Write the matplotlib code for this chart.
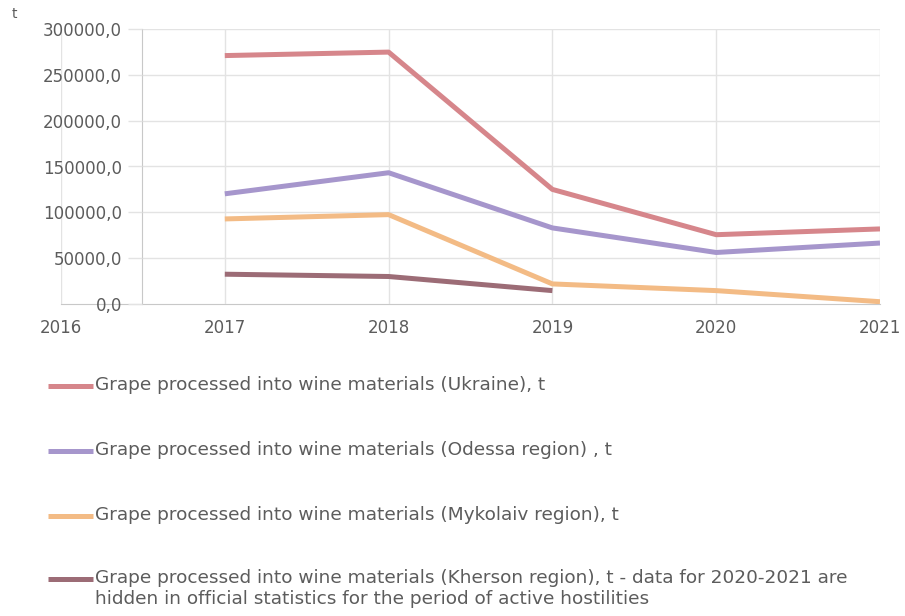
import matplotlib
matplotlib.use("Agg")
import matplotlib.pyplot as plt
from matplotlib.lines import Line2D
from matplotlib.ticker import FuncFormatter

# Grape processed into wine materials, tonnes
years = [2017, 2018, 2019, 2020, 2021]
ukraine = [271000, 274800, 125000, 75600, 81900]
odessa = [120200, 143200, 83000, 56200, 66500]
mykolaiv = [92800, 97500, 21900, 14600, 2500]
kherson_years = [2017, 2018, 2019]
kherson = [32500, 30000, 14600]

x_ticks = [2016, 2017, 2018, 2019, 2020, 2021]
y_ticks = [0, 50000, 100000, 150000, 200000, 250000, 300000]

labels = [
    "Grape processed into wine materials (Ukraine), t",
    "Grape processed into wine materials (Odessa region) , t",
    "Grape processed into wine materials (Mykolaiv region), t",
    "Grape processed into wine materials (Kherson region), t - data for 2020-2021 are\n"
    "hidden in official statistics for the period of active hostilities",
]
colors = ["#d6868b", "#a696cc", "#f3bb85", "#9c6c76"]

TEXT = "#5c5c5c"
GRID = "#e3e3e3"
AXIS = "#c8c8c8"

plt.rcParams["font.family"] = ["DejaVu Sans"]

W, H = 905, 616
fig = plt.figure(figsize=(W / 100, H / 100), dpi=100)
ax = fig.add_axes([61 / W, 1 - 304 / H, 819 / W, 275 / H])

ax.set_xlim(2016, 2021)
ax.set_ylim(0, 300000)

# y axis sits half a year in from the left edge
axis_x = 2016 + (142 - 61) / 819 * 5
axis_frac = (axis_x - 2016) / 5

series = [(years, ukraine), (years, odessa), (years, mykolaiv), (kherson_years, kherson)]
for (xs, ys), c in zip(series, colors):
    ax.plot(xs, ys, color=c, lw=3.6, solid_capstyle="butt", solid_joinstyle="round", zorder=3)

ax.set_xticks(x_ticks)
ax.set_yticks(y_ticks)
ax.yaxis.set_major_formatter(FuncFormatter(lambda v, _: f"{v:.1f}".replace(".", ",")))
ax.grid(axis="x", color=GRID, lw=1.0, zorder=0)
for y in y_ticks[1:]:
    ax.axhline(y, xmin=axis_frac, xmax=1, color=GRID, lw=1.0, zorder=0)

for side in ("top", "right"):
    ax.spines[side].set_visible(False)
ax.spines["left"].set_position(("data", axis_x))
ax.spines["left"].set_color(AXIS)
ax.spines["bottom"].set_color(AXIS)
ax.spines["left"].set_zorder(1)
ax.spines["bottom"].set_zorder(1)

ax.tick_params(axis="y", direction="out", length=10, width=1, color=GRID, pad=4.5,
               labelsize=12, labelcolor=TEXT)
ax.tick_params(axis="x", length=0, pad=11, labelsize=12, labelcolor=TEXT)

fig.text(14 / W, 1 - 14 / H, "t", fontsize=10, color=TEXT, ha="center", va="center")

# legend rows below the plot
row_y = [386, 451, 516, 579]
for y, lab, c in zip(row_y, labels, colors):
    fy = 1 - y / H
    fig.add_artist(Line2D([48 / W, 93 / W], [fy, fy], color=c, lw=3.6,
                          solid_capstyle="butt", transform=fig.transFigure))
    fig.text(95 / W, 1 - (y - 10) / H, lab, fontsize=13.3, color=TEXT,
             ha="left", va="top", linespacing=1.25)

fig.savefig("out.png", dpi=100, facecolor="white")
